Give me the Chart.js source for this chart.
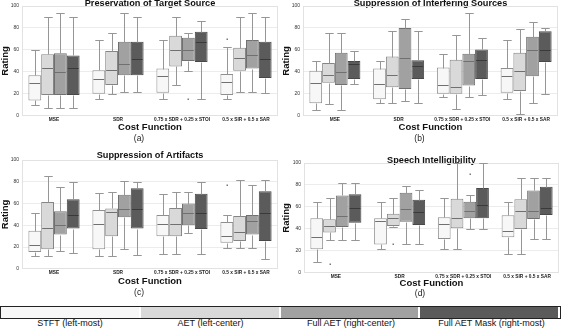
<!DOCTYPE html>
<html>
<head>
<meta charset="utf-8">
<script src="https://cdn.jsdelivr.net/npm/chart.js@4.4.1/dist/chart.umd.min.js"></script>
<style>
  body { margin: 0; background: #fff; }
  #wrap { position: relative; width: 562px; height: 329px; overflow: hidden; font-family: "Liberation Sans", Arial, sans-serif; }
  #wrap canvas { position: absolute; }
  #legend-bar { position: absolute; left: 0; top: 306px; width: 559px; height: 11px; border: 1px solid #222; display: flex; background: #fff; }
  #legend-bar .seg { flex: 1; border-right: 2px solid #fff; }
  .lbl { position: absolute; top: 318px; width: 140px; text-align: center; font-size: 9px; line-height: 11px; color: #111; }
</style>
</head>
<body>
<div id="wrap">
  <canvas id="chart-a" width="281" height="150" style="left:0;top:0"></canvas>
  <canvas id="chart-b" width="281" height="150" style="left:281px;top:0"></canvas>
  <canvas id="chart-c" width="281" height="155" style="left:0;top:150px"></canvas>
  <canvas id="chart-d" width="281" height="155" style="left:281px;top:150px"></canvas>
  <div id="legend-bar"></div>
  <div id="legend-labels"></div>
</div>
<script>
const categories = ['MSE', 'SDR', '0.75 x SDR + 0.25 x STOI', '0.5 x SIR + 0.5 x SAR'];
const methods = ['STFT (left-most)', 'AET (left-center)', 'Full AET (right-center)', 'Full AET Mask (right-most)'];
const yTicks = [0, 20, 40, 60, 80, 100];

// [min, q1, median, q3, max] per cost function
// (a) Preservation of Target Source
const targetStft = [[10, 14, 30, 37, 60], [15, 20, 33.5, 41.5, 69], [15, 21, 36, 43, 69], [15, 19, 31, 38, 62.5]];
const targetAet  = [[7, 19, 44, 56, 90], [20, 28, 41.5, 59, 75], [28, 45, 59.5, 73, 90], [22, 41, 52.5, 62, 90]];
const targetFull = [[7, 19, 40, 57, 94], [22, 37, 47.5, 67.5, 94], [41, 50, 60, 71, 75], [22, 43, 55, 69, 94]];
const targetMask = [[7, 19, 44, 55, 90], [22, 37, 52, 67.5, 90], [15, 49, 67.5, 76.5, 86], [21, 34.5, 52, 67.5, 90]];
const targetOutliers = [[2, 2, 15], [0, 3, 70]]; // [method, category, value]

// (b) Suppression of Interfering Sources
const interfStft = [[5.5, 11.5, 30, 41, 50], [11.5, 15, 29, 43, 50], [17, 20, 28, 44, 56.5], [15, 21, 36, 43.5, 69]];
const interfAet  = [[10.7, 30, 37.5, 48, 75], [11.5, 26, 37.5, 54, 77], [6, 20, 26, 51, 73.5], [2, 22.5, 41, 57.5, 79]];
const interfFull = [[5.5, 28, 40, 57.5, 75], [13.7, 24.5, 52.5, 80, 88.5], [17, 27.5, 49.5, 56.5, 94], [11.5, 36, 60, 72, 85.5]];
const interfMask = [[29, 33.5, 47, 50, 59], [11.5, 33.5, 45, 50.5, 77], [18.6, 33.5, 51, 60.5, 71], [20, 49, 59.5, 77, 80]];
const interfOutliers = [];

// (c) Suppression of Artifacts
const artifStft = [[12, 15.4, 21.6, 35, 51], [12, 18, 41.4, 54, 70], [13.6, 30, 41.4, 49.4, 69], [18.8, 24, 30.5, 43, 49.4]];
const artifAet  = [[12, 18, 37.7, 61.4, 85], [12, 30, 52.5, 55.5, 70.7], [13.6, 30, 41.4, 56, 70.7], [18.8, 25.6, 34, 48.5, 82]];
const artifFull = [[16.7, 31.5, 40.7, 53, 75], [18, 47.5, 55, 68, 81], [33, 40, 51, 60, 70.7], [18.8, 31.5, 43.5, 49.4, 77]];
const artifMask = [[14.8, 37, 49.4, 64, 80], [12.7, 37, 54.6, 74, 80], [13.6, 36.7, 51.5, 69, 80], [9, 25.6, 51, 71.3, 82]];
const artifOutliers = [[0, 3, 77]];

// (d) Speech Intelligibility
const intellStft = [[9.8, 21.5, 32.5, 49.7, 64.7], [21.8, 25.8, 47.2, 49.7, 64.7], [21.8, 30.7, 44.8, 50.6, 67.8], [16.9, 32.5, 38.3, 52.5, 64.7]];
const intellAet  = [[30, 36.8, 42.6, 48.8, 67.8], [41.7, 42.6, 49.7, 53.7, 67.8], [21.8, 40.5, 49.7, 67.5, 100], [16.9, 40, 56, 67, 86]];
const intellFull = [[30, 41.7, 51.5, 70.5, 82], [25.8, 46.6, 57.7, 73, 79], [40, 49.7, 56.7, 64.7, 70.5], [30.7, 49, 56, 75, 86]];
const intellMask = [[30, 45.7, 58.6, 71.5, 82], [25.8, 43.6, 55.5, 66.6, 75.5], [40, 49.7, 61.7, 77.3, 100], [30.7, 52.7, 59, 78.5, 86]];
const intellOutliers = [[1, 0, 8], [1, 1, 25.8], [2, 2, 90]];

const fills = ['#f7f7f7', '#d9d9d9', '#a1a1a1', '#5b5b5b'];
const edges = ['#8f8f8f', '#858585', '#707070', '#484848'];
const FONT = '"Liberation Sans", Arial, sans-serif';

// whiskers, caps, medians and outlier dots on top of the floating bars
const boxPlugin = {
  id: 'boxWhiskers',
  beforeDatasetsDraw(chart) {
    const { ctx, chartArea: a } = chart;
    ctx.save();
    ctx.strokeStyle = '#e2e2e2';
    ctx.lineWidth = 1;
    ctx.strokeRect(Math.round(a.left) + 0.5, Math.round(a.top) + 0.5,
      Math.round(a.right - a.left) - 1, Math.round(a.bottom - a.top) - 1);
    ctx.restore();
  },
  afterDatasetsDraw(chart) {
    const { ctx } = chart;
    const y = chart.scales.y;
    ctx.save();
    ctx.lineWidth = 1;
    chart.data.datasets.forEach((ds, d) => {
      const meta = chart.getDatasetMeta(d);
      meta.data.forEach((bar, i) => {
        const [lo, q1, med, q3, hi] = ds.stats[i];
        const x = Math.round(bar.x) + 0.5;
        const half = bar.width / 2;
        const cap = bar.width * 0.33;
        const py = v => Math.round(y.getPixelForValue(v)) + 0.5;
        ctx.strokeStyle = '#969696';
        ctx.beginPath();
        ctx.moveTo(x, py(q3)); ctx.lineTo(x, py(hi));
        ctx.moveTo(x - cap, py(hi)); ctx.lineTo(x + cap, py(hi));
        ctx.moveTo(x, py(q1)); ctx.lineTo(x, py(lo));
        ctx.moveTo(x - cap, py(lo)); ctx.lineTo(x + cap, py(lo));
        ctx.stroke();
        ctx.strokeStyle = ds.medianColor;
        ctx.beginPath();
        ctx.moveTo(bar.x - half + 1, py(med)); ctx.lineTo(bar.x + half - 1, py(med));
        ctx.stroke();
      });
      (ds.outliers || []).forEach(([i, v]) => {
        const bar = meta.data[i];
        ctx.fillStyle = '#7a7a7a';
        ctx.fillRect(Math.round(bar.x) - 0.5, Math.round(y.getPixelForValue(v)) - 0.5, 1.5, 1.5);
      });
    });
    ctx.restore();
  }
};

function makeChart(id, title, letter, series, outliers, L) {
  const datasets = series.map((stats, m) => ({
    label: methods[m],
    data: stats.map(s => [s[1], s[3]]),
    stats: stats,
    outliers: outliers.filter(o => o[0] === m).map(o => [o[1], o[2]]),
    backgroundColor: fills[m],
    borderColor: edges[m],
    medianColor: m === 3 ? '#3a3a3a' : '#707070',
    borderWidth: 1,
    borderSkipped: false,
    categoryPercentage: 0.8,
    barPercentage: 1
  }));

  return new Chart(document.getElementById(id), {
    type: 'bar',
    data: { labels: categories, datasets },
    plugins: [boxPlugin],
    options: {
      responsive: false,
      devicePixelRatio: 1,
      animation: false,
      layout: { padding: { left: 0, right: L.right, top: 0, bottom: 0 } },
      plugins: {
        legend: { display: false },
        tooltip: { enabled: false },
        title: {
          display: true, text: title, fullSize: false, color: '#111',
          font: { family: FONT, size: 9.2, weight: 'bold', lineHeight: 1.2 },
          padding: L.titlePad
        },
        subtitle: {
          display: true, text: letter, position: 'bottom', color: '#222',
          font: { family: FONT, size: 8.5, weight: 'normal', lineHeight: 1.2 },
          padding: L.subPad
        }
      },
      scales: {
        x: {
          grid: { display: false, drawTicks: false },
          border: { display: false },
          ticks: {
            color: '#222', padding: 1, maxRotation: 0, autoSkip: false,
            font: { family: FONT, size: 4.8, weight: 'bold', lineHeight: 1.2 }
          },
          title: {
            display: true, text: 'Cost Function', color: '#111',
            font: { family: FONT, size: 9.5, weight: 'bold', lineHeight: 1 },
            padding: { top: 0, bottom: L.xTitleBottom }
          },
          afterFit: s => { s.height = L.xHeight; }
        },
        y: {
          min: 0, max: 100,
          grid: { color: '#ececec', drawTicks: false },
          border: { display: false },
          afterBuildTicks: s => { s.ticks = yTicks.map(v => ({ value: v })); },
          ticks: {
            color: '#333', padding: 3,
            font: { family: FONT, size: 5, lineHeight: 1.2 }
          },
          title: {
            display: true, text: 'Rating', color: '#111',
            font: { family: FONT, size: 9.5, weight: 'bold', lineHeight: 1.05 },
            padding: { top: 0, bottom: 0 }
          },
          afterFit: s => { s.width = L.yWidth; }
        }
      }
    }
  });
}

makeChart('chart-a', 'Preservation of Target Source', '(a)',
  [targetStft, targetAet, targetFull, targetMask], targetOutliers,
  { right: 3, yWidth: 22, xHeight: 18, xTitleBottom: 1.5,
    titlePad: { top: -2, bottom: -3 }, subPad: { top: 0, bottom: 6 } });

makeChart('chart-b', 'Suppression of Interfering Sources', '(b)',
  [interfStft, interfAet, interfFull, interfMask], interfOutliers,
  { right: 4, yWidth: 22, xHeight: 18, xTitleBottom: 1.5,
    titlePad: { top: -2, bottom: -3 }, subPad: { top: 0, bottom: 6 } });

makeChart('chart-c', 'Suppression of Artifacts', '(c)',
  [artifStft, artifAet, artifFull, artifMask], artifOutliers,
  { right: 3, yWidth: 22, xHeight: 18, xTitleBottom: 1,
    titlePad: { top: 0, bottom: -1 }, subPad: { top: 1, bottom: 7 } });

makeChart('chart-d', 'Speech Intelligibility', '(d)',
  [intellStft, intellAet, intellFull, intellMask], intellOutliers,
  { right: 3, yWidth: 23, xHeight: 16, xTitleBottom: 0.5,
    titlePad: { top: 5, bottom: -3 }, subPad: { top: -0.5, bottom: 6.5 } });

// legend strip under the four panels
const bar = document.getElementById('legend-bar');
const labels = document.getElementById('legend-labels');
methods.forEach((m, i) => {
  const seg = document.createElement('div');
  seg.className = 'seg';
  seg.style.background = fills[i];
  bar.appendChild(seg);
  const lbl = document.createElement('div');
  lbl.className = 'lbl';
  lbl.style.left = (i * 140.5) + 'px';
  lbl.textContent = m;
  labels.appendChild(lbl);
});
</script>
</body>
</html>
